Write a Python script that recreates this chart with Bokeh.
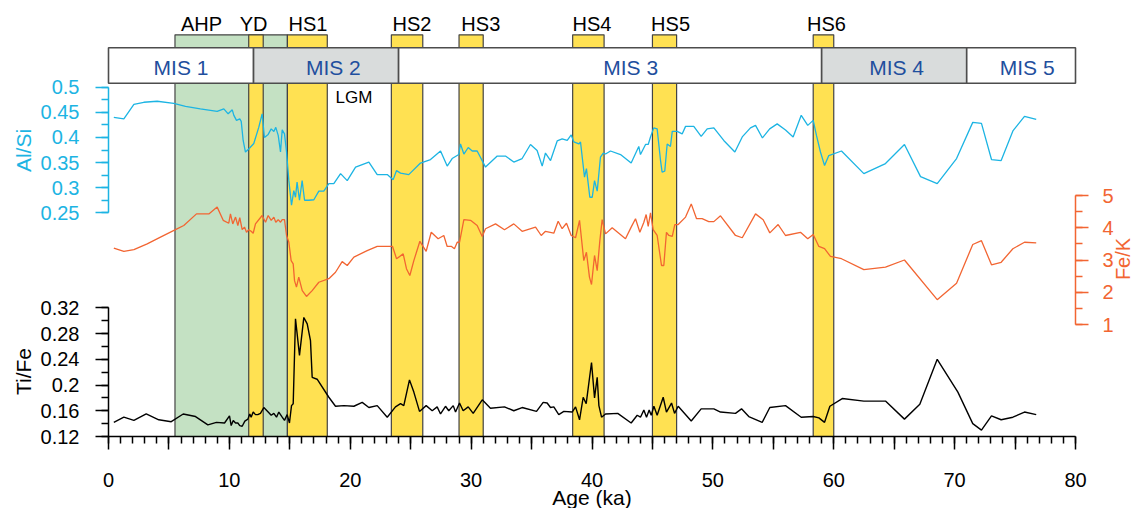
from bokeh.plotting import figure
from bokeh.models import Range1d, LinearAxis, FixedTicker, NumeralTickFormatter, Label, ColumnDataSource
from bokeh.embed import file_html
from bokeh.resources import INLINE
from bokeh.core.properties import value

# ---------------- data ----------------
alsi_age = [0.44, 1.27, 2.10, 2.92, 4.03, 5.40, 6.37, 7.60, 8.99, 9.54, 9.90, 10.24, 10.37, 10.59, 10.86,
            10.98, 11.14, 11.33, 11.60, 12.02, 12.43, 12.71, 12.90, 13.21, 13.46, 13.68, 13.84, 14.04, 14.23,
            14.37, 14.56, 14.73, 14.92, 15.14, 15.33, 15.47, 15.60, 15.80, 16.02, 16.22, 16.57, 16.99, 17.40,
            17.81, 18.23, 18.64, 19.20, 19.75, 20.44, 21.54, 22.23, 23.06, 23.55, 23.83, 24.16, 24.84, 25.81,
            26.64, 27.47, 28.02, 28.43, 28.98, 29.12, 29.40, 29.76, 30.09, 30.50, 31.19, 32.16, 32.84, 33.53,
            34.22, 34.91, 35.46, 35.88, 36.15, 36.57, 37.12, 37.53, 37.95, 38.28, 38.50, 38.91, 39.05, 39.19,
            39.38, 39.54, 39.82, 40.02, 40.21, 40.43, 40.70, 40.93, 41.12, 41.53, 42.36, 43.24, 43.87, 44.01,
            44.43, 44.65, 44.84, 45.11, 45.39, 45.67, 45.80, 46.02, 46.22, 46.49, 46.64, 47.05, 47.46, 47.74,
            48.42, 49.03, 49.53, 50.08, 50.90, 51.82, 52.43, 53.11, 53.53, 54.10, 54.70, 55.32, 56.01, 56.64,
            57.31, 57.85, 58.30, 58.57, 58.90, 59.24, 59.59, 60.64, 62.49, 64.28, 65.85, 67.18, 68.56, 70.16,
            71.50, 72.22, 73.05, 73.85, 74.82, 75.78, 76.75]
alsi = [0.440, 0.437, 0.466, 0.470, 0.472, 0.468, 0.462, 0.457, 0.452, 0.457, 0.447, 0.455, 0.444, 0.434, 0.437,
        0.432, 0.394, 0.371, 0.377, 0.388, 0.420, 0.447, 0.400, 0.406, 0.417, 0.412, 0.420, 0.404, 0.371,
        0.415, 0.407, 0.371, 0.314, 0.265, 0.294, 0.281, 0.311, 0.275, 0.314, 0.275, 0.275, 0.276, 0.293,
        0.293, 0.308, 0.308, 0.328, 0.314, 0.341, 0.351, 0.326, 0.326, 0.316, 0.334, 0.329, 0.326, 0.349,
        0.356, 0.373, 0.343, 0.358, 0.366, 0.387, 0.367, 0.380, 0.373, 0.373, 0.341, 0.363, 0.363, 0.351,
        0.358, 0.386, 0.374, 0.343, 0.369, 0.354, 0.393, 0.397, 0.394, 0.405, 0.391, 0.387, 0.391, 0.361,
        0.321, 0.338, 0.281, 0.281, 0.314, 0.293, 0.361, 0.369, 0.367, 0.373, 0.366, 0.349, 0.382, 0.366,
        0.386, 0.386, 0.401, 0.419, 0.417, 0.354, 0.331, 0.333, 0.387, 0.382, 0.412, 0.412, 0.407, 0.422,
        0.422, 0.402, 0.417, 0.419, 0.394, 0.371, 0.401, 0.419, 0.424, 0.399, 0.417, 0.427, 0.415, 0.401,
        0.444, 0.424, 0.434, 0.404, 0.371, 0.344, 0.364, 0.373, 0.328, 0.348, 0.386, 0.322, 0.308, 0.358,
        0.430, 0.428, 0.356, 0.354, 0.413, 0.442, 0.436]

fek_age = [0.44, 1.27, 2.10, 3.20, 4.30, 5.54, 6.23, 7.28, 8.30, 8.99, 9.49, 9.95, 10.09, 10.28, 10.51, 10.70,
           10.86, 11.06, 11.25, 11.42, 11.60, 11.80, 11.97, 12.16, 12.71, 12.99, 13.21, 13.46, 13.68, 13.84,
           14.04, 14.23, 14.37, 14.56, 14.73, 14.92, 15.11, 15.28, 15.39, 15.55, 15.74, 16.03, 16.38, 16.85,
           17.40, 18.23, 18.78, 19.33, 19.75, 20.30, 21.40, 22.23, 23.50, 23.83, 24.38, 24.65, 24.93, 25.26,
           25.76, 26.28, 26.70, 27.27, 27.74, 28.02, 28.38, 28.62, 28.85, 29.04, 29.40, 29.95, 30.50, 30.92,
           31.19, 32.02, 32.76, 33.53, 34.22, 35.33, 35.80, 36.15, 36.84, 37.20, 37.53, 37.89, 38.28, 38.64,
           38.97, 39.32, 39.54, 39.79, 39.96, 40.21, 40.43, 40.65, 40.84, 41.12, 41.67, 42.77, 43.24, 43.60,
           43.96, 44.29, 44.48, 44.65, 44.84, 45.06, 45.39, 45.75, 45.94, 46.16, 46.36, 46.64, 46.85, 47.13,
           47.74, 48.21, 48.65, 49.11, 49.66, 50.08, 50.63, 51.87, 52.43, 53.53, 54.16, 54.71, 55.40, 56.01,
           57.25, 57.85, 58.30, 58.77, 59.24, 59.73, 60.64, 62.49, 64.28, 65.85, 68.56, 70.16, 71.50, 72.22,
           73.05, 73.85, 74.82, 75.78, 76.75]
fek = [3.37, 3.27, 3.32, 3.50, 3.71, 3.94, 4.07, 4.43, 4.43, 4.64, 4.23, 4.14, 4.43, 4.12, 4.33, 4.07,
       4.31, 3.94, 4.02, 3.86, 3.94, 3.89, 3.83, 4.12, 4.38, 4.17, 4.38, 4.23, 4.33, 4.17,
       4.25, 4.17, 4.25, 4.25, 3.76, 3.55, 2.98, 2.88, 2.36, 2.16, 2.47, 2.05, 1.87, 2.05,
       2.31, 2.42, 2.62, 2.95, 2.83, 3.09, 3.29, 3.42, 3.42, 3.04, 3.19, 2.73, 2.52, 2.98,
       3.58, 3.27, 3.86, 3.66, 3.76, 3.42, 3.42, 3.35, 3.55, 3.55, 4.25, 4.23, 4.07, 3.73,
       3.97, 4.12, 3.94, 4.12, 3.89, 4.02, 3.76, 3.89, 3.83, 4.20, 3.97, 4.14, 3.76, 3.69,
       4.23, 2.98, 3.24, 2.47, 2.24, 3.14, 2.67, 3.60, 4.25, 3.81, 4.00, 3.66, 4.02, 4.28,
       3.86, 4.17, 4.41, 4.04, 4.46, 3.94, 3.76, 2.83, 2.83, 3.86, 3.76, 3.73, 4.10, 4.10,
       4.33, 4.74, 4.28, 4.28, 4.19, 4.19, 4.37, 3.76, 3.69, 4.43, 4.25, 3.84, 4.10, 3.76,
       3.86, 3.66, 3.79, 3.42, 3.35, 3.11, 3.04, 2.70, 2.78, 3.00, 1.77, 2.28, 3.48, 3.60,
       2.85, 2.93, 3.35, 3.55, 3.53]

tife_age = [0.44, 1.27, 2.10, 3.12, 4.16, 5.19, 6.18, 7.20, 8.22, 8.93, 9.60, 10.01, 10.15, 10.32, 10.51,
            10.70, 10.86, 11.06, 11.28, 11.53, 11.69, 11.80, 11.97, 12.16, 12.35, 12.57, 12.85, 13.21, 13.46,
            13.68, 13.90, 14.09, 14.37, 14.56, 14.78, 14.97, 15.14, 15.28, 15.47, 15.80, 16.16, 16.44, 16.71,
            16.85, 17.26, 18.23, 18.78, 19.47, 20.30, 20.99, 21.54, 22.23, 23.06, 23.74, 24.16, 24.43, 24.90,
            25.26, 25.73, 26.28, 26.78, 27.19, 27.47, 27.88, 28.15, 28.52, 28.71, 29.04, 29.34, 29.76, 30.17,
            30.92, 31.60, 32.76, 33.53, 34.22, 35.41, 35.96, 36.29, 36.57, 36.84, 37.25, 37.67, 38.36, 38.64,
            38.97, 39.27, 39.52, 39.96, 40.21, 40.43, 40.57, 40.79, 41.12, 42.13, 43.24, 43.74, 44.01, 44.29,
            44.51, 44.73, 44.90, 45.12, 45.39, 45.89, 46.16, 46.58, 46.83, 47.13, 48.21, 49.03, 50.08, 50.63,
            51.87, 52.37, 52.97, 54.08, 54.71, 56.01, 57.31, 58.30, 58.77, 59.24, 59.68, 60.70, 62.49, 64.28,
            65.85, 67.12, 68.56, 70.27, 71.50, 72.22, 73.05, 73.85, 74.82, 75.78, 76.75]
tife = [0.142, 0.150, 0.145, 0.155, 0.146, 0.143, 0.155, 0.151, 0.138, 0.142, 0.141, 0.152, 0.137, 0.145, 0.141,
        0.141, 0.137, 0.136, 0.144, 0.147, 0.155, 0.150, 0.158, 0.154, 0.154, 0.156, 0.165, 0.158, 0.153,
        0.156, 0.150, 0.158, 0.150, 0.145, 0.154, 0.141, 0.168, 0.171, 0.303, 0.246, 0.305, 0.295, 0.269,
        0.212, 0.209, 0.181, 0.167, 0.168, 0.167, 0.173, 0.165, 0.168, 0.150, 0.166, 0.171, 0.168, 0.208,
        0.189, 0.159, 0.168, 0.160, 0.166, 0.155, 0.167, 0.160, 0.168, 0.158, 0.172, 0.160, 0.166, 0.156,
        0.177, 0.164, 0.166, 0.160, 0.165, 0.159, 0.173, 0.172, 0.165, 0.166, 0.154, 0.159, 0.158, 0.166,
        0.146, 0.181, 0.171, 0.235, 0.180, 0.212, 0.168, 0.150, 0.155, 0.156, 0.141, 0.153, 0.150, 0.161,
        0.150, 0.161, 0.153, 0.167, 0.153, 0.181, 0.158, 0.172, 0.156, 0.167, 0.144, 0.163, 0.163, 0.158,
        0.156, 0.163, 0.151, 0.142, 0.165, 0.168, 0.150, 0.151, 0.149, 0.142, 0.167, 0.179, 0.175, 0.175,
        0.147, 0.170, 0.240, 0.189, 0.140, 0.130, 0.152, 0.146, 0.150, 0.158, 0.154]

event_names = ["AHP", "YD", "HS1", "HS2", "HS3", "HS4", "HS5", "HS6"]
event_start = [5.5, 11.6, 14.8, 23.4, 29.0, 38.4, 45.0, 58.3]
event_end = [14.8, 12.8, 18.1, 26.0, 31.0, 41.0, 47.0, 60.0]
event_label_x = [7.7, 12.0, 16.5, 25.1, 30.8, 40.0, 46.5, 59.4]

mis_names = ["MIS 1", "MIS 2", "MIS 3", "MIS 4", "MIS 5"]
mis_start = [0, 12, 24, 59, 71]
mis_end = [12, 24, 59, 71, 80]
mis_label_x = [6.0, 18.6, 43.2, 65.2, 76.0]

lgm_label = "LGM"
lgm_x = 20.3

x_major = list(range(0, 81, 5))
x_minor = list(range(0, 81))
x_blank = list(range(5, 80, 10))
alsi_ticks = [0.25, 0.3, 0.35, 0.4, 0.45, 0.5]
alsi_minor = [0.25, 0.275, 0.3, 0.325, 0.35, 0.375, 0.4, 0.425, 0.45, 0.475, 0.5]
fek_ticks = [1, 2, 3, 4, 5]
fek_minor = [1, 1.5, 2, 2.5, 3, 3.5, 4, 4.5, 5]
tife_ticks = [0.12, 0.16, 0.2, 0.24, 0.28, 0.32]
tife_minor = [0.12, 0.14, 0.16, 0.18, 0.2, 0.22, 0.24, 0.26, 0.28, 0.3, 0.32]

# ---------------- layout (canvas pixels) ----------------
W, H = 1134, 508
X0, X80 = 108, 1075          # pixel positions of 0 ka and 80 ka
AXIS_Y = 436                 # pixel row of the age axis
FONT = "Liberation Sans"
CYAN = "#1cb4e3"
ORANGE = "#f26532"
YELLOW = "#ffe152"
GREEN = "#c4e1c3"
GRAY = "#d9dcdc"
NAVY = "#1f4f9e"


def ka(px):
    return (px - X0) * 80.0 / (X80 - X0)


p = figure(width=W, height=H, output_backend="svg", toolbar_location=None,
           x_axis_type=None, y_axis_type=None,
           x_range=Range1d(ka(0), ka(W)), y_range=Range1d(start=H, end=0),
           min_border_left=0, min_border_right=0, min_border_top=0, min_border_bottom=0)
p.outline_line_color = None
p.background_fill_color = "white"


def px_range(v1, y1, v2, y2):
    slope = (v2 - v1) / (y2 - y1)
    return Range1d(start=v1 + (H - y1) * slope, end=v1 + (0 - y1) * slope)


p.extra_y_ranges = {
    "alsi": px_range(0.5, 86.7, 0.25, 212.3),
    "fek": px_range(5, 195, 1, 324),
    "tife": px_range(0.32, 307.3, 0.12, 436),
}

# bands
ev_fill = [GREEN if n == "AHP" else YELLOW for n in event_names]
band_src = ColumnDataSource(dict(left=event_start, right=event_end, fill=ev_fill))
p.quad(left="left", right="right", top=34.3, bottom=AXIS_Y, fill_color="fill", source=band_src,
       line_color="#444444", line_width=1.2)

# MIS box
mis_fill = ["white" if i % 2 == 0 else GRAY for i in range(len(mis_names))]
mis_src = ColumnDataSource(dict(left=mis_start, right=mis_end, fill=mis_fill))
p.quad(left="left", right="right", top=47.3, bottom=82.7, fill_color="fill", source=mis_src,
       line_color="#4d4d4d", line_width=1.6)
p.text(x=mis_label_x, y=[66.5] * len(mis_names), text=mis_names, text_align="center",
       text_baseline="middle", text_font=value(FONT), text_font_size="21px", text_color=NAVY)

# event labels
p.text(x=event_label_x, y=[23.5] * len(event_names), text=event_names, text_align="center",
       text_baseline="middle", text_font=value(FONT), text_font_size="20px", text_color="black")
p.text(x=[lgm_x], y=[97], text=[lgm_label], text_align="center", text_baseline="middle",
       text_font=value(FONT), text_font_size="17px", text_color="black")

# series
p.line(alsi_age, alsi, y_range_name="alsi", line_color=CYAN, line_width=1.3)
p.line(fek_age, fek, y_range_name="fek", line_color=ORANGE, line_width=1.3)
p.line(tife_age, tife, y_range_name="tife", line_color="black", line_width=1.4)


def style(ax, color):
    ax.axis_line_color = color
    ax.axis_line_width = 1.5
    ax.major_tick_line_color = color
    ax.minor_tick_line_color = color
    ax.major_tick_line_width = 1.5
    ax.minor_tick_line_width = 1.5
    ax.major_tick_out = 13
    ax.major_tick_in = 0
    ax.minor_tick_out = 7
    ax.minor_tick_in = 0
    ax.major_label_text_color = color
    ax.major_label_text_font = FONT
    ax.major_label_text_font_size = "20px"


xax = LinearAxis(fixed_location=AXIS_Y, bounds=(0, 80),
                 ticker=FixedTicker(ticks=x_major, minor_ticks=x_minor))
xax.major_label_overrides = {t: "" for t in x_blank}
style(xax, "black")
xax.major_label_standoff = 23
p.add_layout(xax, "below")

ax1 = LinearAxis(y_range_name="alsi", fixed_location=0, bounds=(0.25, 0.5),
                 ticker=FixedTicker(ticks=alsi_ticks, minor_ticks=alsi_minor),
                 formatter=NumeralTickFormatter(format="0.[00]"))
style(ax1, CYAN)
ax1.major_label_standoff = 16
p.add_layout(ax1, "left")

ax3 = LinearAxis(y_range_name="tife", fixed_location=0, bounds=(0.12, 0.32),
                 ticker=FixedTicker(ticks=tife_ticks, minor_ticks=tife_minor),
                 formatter=NumeralTickFormatter(format="0.[00]"))
style(ax3, "black")
ax3.major_label_standoff = 16
p.add_layout(ax3, "left")

ax2 = LinearAxis(y_range_name="fek", fixed_location=80, bounds=(1, 5),
                 ticker=FixedTicker(ticks=fek_ticks, minor_ticks=fek_minor))
style(ax2, ORANGE)
ax2.major_label_standoff = 14
p.add_layout(ax2, "right")

# axis titles
for txt, xp, yp, col, fs in [("Al/Si", 22.5, 150, CYAN, "21px"), ("Ti/Fe", 23, 371, "black", "21px"),
                             ("Fe/K", 1122.5, 258.5, ORANGE, "20px")]:
    p.add_layout(Label(x=ka(xp), y=yp, text=txt, angle=90, angle_units="deg", text_align="center",
                       text_baseline="middle", text_font=FONT, text_font_size=fs, text_color=col))
p.add_layout(Label(x=40, y=485, text="Age (ka)", text_align="center", text_baseline="top",
                   text_font=FONT, text_font_size="21px", text_color="black"))

open("out.html", "w").write(file_html(p, INLINE))
